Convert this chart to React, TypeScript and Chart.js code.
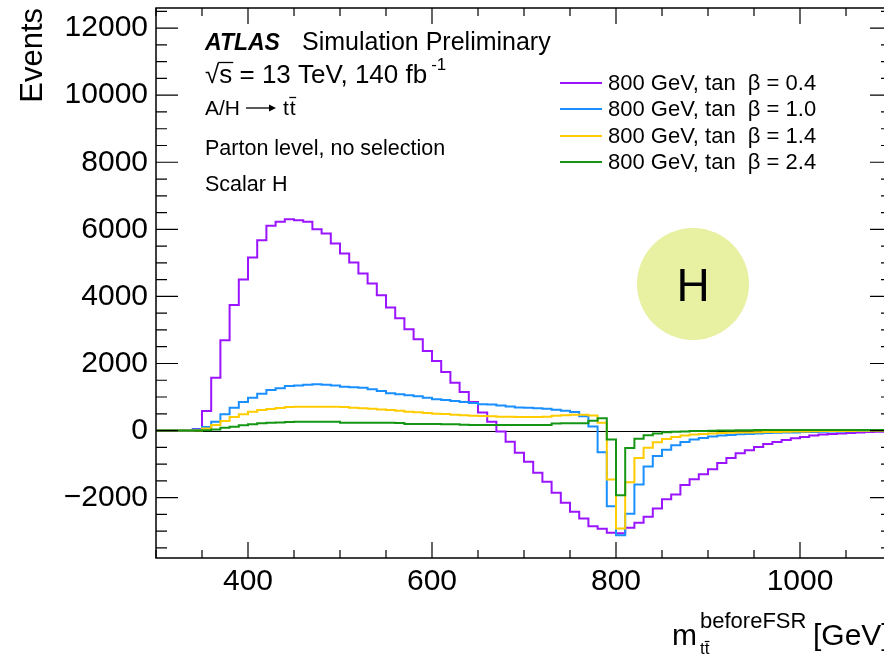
import React, { useEffect, useRef } from "react";
import { Chart, registerables } from "chart.js";

Chart.register(...registerables);

const FONT = '"Liberation Sans", Arial, Helvetica, sans-serif';

// Bin low edges (GeV), 10 GeV bins
const BIN_LOW = [
  300, 310, 320, 330, 340, 350, 360, 370, 380, 390,
  400, 410, 420, 430, 440, 450, 460, 470, 480, 490,
  500, 510, 520, 530, 540, 550, 560, 570, 580, 590,
  600, 610, 620, 630, 640, 650, 660, 670, 680, 690,
  700, 710, 720, 730, 740, 750, 760, 770, 780, 790,
  800, 810, 820, 830, 840, 850, 860, 870, 880, 890,
  900, 910, 920, 930, 940, 950, 960, 970, 980, 990,
  1000, 1010, 1020, 1030, 1040, 1050, 1060, 1070, 1080, 1090,
];
const X_END = 1100;

const TANB_04 = [
  0, 0, 0, 0, 50, 582, 1576, 2692, 3746, 4502,
  5158, 5677, 6104, 6224, 6304, 6274, 6224, 6005, 5875, 5577,
  5278, 5009, 4681, 4382, 4035, 3666, 3348, 3020, 2722, 2373,
  2075, 1746, 1428, 1149, 851, 540, 263, -30, -334, -663,
  -931, -1260, -1528, -1857, -2156, -2424, -2623, -2851, -2930, -3050,
  -3060, -2901, -2752, -2573, -2323, -2050, -1905, -1620, -1450, -1300,
  -1150, -970, -820, -680, -590, -490, -400, -340, -280, -230,
  -190, -150, -120, -100, -85, -70, -55, -45, -35, -30,
];

const TANB_10 = [
  0, 0, 0, 0, 30, 104, 260, 483, 681, 851,
  979, 1099, 1209, 1260, 1328, 1340, 1368, 1378, 1368, 1340,
  1307, 1290, 1278, 1230, 1179, 1110, 1080, 1051, 1020, 979,
  931, 910, 881, 850, 821, 782, 780, 751, 721, 690,
  681, 665, 650, 620, 590, 552, 430, 120, -650, -2254,
  -3120, -2483, -1606, -1070, -760, -570, -440, -343, -270, -220,
  -175, -145, -130, -110, -100, -85, -75, -65, -60, -55,
  -45, -40, -35, -30, -25, -20, -15, -10, -10, -10,
];

const TANB_14 = [
  0, 0, 0, 0, 0, 60, 164, 284, 403, 483,
  561, 612, 642, 672, 701, 710, 710, 710, 710, 710,
  700, 680, 663, 650, 630, 610, 590, 561, 545, 522,
  505, 492, 470, 453, 440, 433, 425, 415, 410, 405,
  405, 405, 410, 440, 455, 470, 470, 450, 233, -1457,
  -2920, -1540, -820, -513, -350, -250, -190, -150, -120, -100,
  -85, -75, -65, -60, -55, -50, -45, -40, -35, -30,
  -25, -20, -15, -10, -10, -10, -5, -5, -5, -5,
];

const TANB_24 = [
  0, 0, 0, 0, 0, 10, 30, 84, 113, 155,
  185, 215, 233, 240, 254, 265, 265, 265, 265, 263,
  235, 230, 230, 230, 230, 230, 225, 195, 195, 195,
  195, 190, 190, 170, 165, 165, 165, 165, 165, 165,
  165, 165, 165, 210, 215, 215, 215, 290, 365, -264,
  -1930, -520, -245, -143, -84, -50, -35, -25, -15, -10,
  -5, 0, 5, 10, 10, 15, 15, 15, 15, 15,
  15, 15, 15, 15, 15, 15, 15, 15, 15, 15,
];

const SERIES_LABELS = [
  "800 GeV, tan  \u03B2 = 0.4",
  "800 GeV, tan  \u03B2 = 1.0",
  "800 GeV, tan  \u03B2 = 1.4",
  "800 GeV, tan  \u03B2 = 2.4",
];
const SERIES_COLORS = ["#9a14ff", "#1a8fff", "#ffcc00", "#149614"];
const SERIES_VALUES = [TANB_04, TANB_10, TANB_14, TANB_24];

const X_MIN = 300;
const X_MAX = 1100;
const Y_MIN = -3800;
const Y_MAX = 12600;
const X_MAJOR_TICKS = [400, 600, 800, 1000];
const Y_MAJOR_TICKS = [-2000, 0, 2000, 4000, 6000, 8000, 10000, 12000];
const X_MINOR_STEP = 50;
const Y_MINOR_STEP = 500;

function toPoints(vals: number[]) {
  const pts = BIN_LOW.map((x, i) => ({ x, y: vals[i] }));
  pts.push({ x: X_END, y: vals[vals.length - 1] });
  return pts;
}

const decor = {
  id: "atlasDecor",
  beforeDatasetsDraw(chart: any) {
    const { ctx, chartArea } = chart;
    const ys = chart.scales.y;
    const y0 = Math.round(ys.getPixelForValue(0)) + 0.5;
    ctx.save();
    ctx.strokeStyle = "#000";
    ctx.lineWidth = 1;
    ctx.beginPath();
    ctx.moveTo(chartArea.left, y0);
    ctx.lineTo(chartArea.right, y0);
    ctx.stroke();
    ctx.restore();
  },
  afterDraw(chart: any) {
    const { ctx, chartArea } = chart;
    const xs = chart.scales.x;
    const ys = chart.scales.y;
    const L = chartArea.left, R = chartArea.right, T = chartArea.top, B = chartArea.bottom;
    ctx.save();
    // frame
    ctx.strokeStyle = "#000";
    ctx.lineWidth = 1.5;
    ctx.strokeRect(L, T, R - L, B - T);
    // ticks
    ctx.lineWidth = 1.2;
    ctx.beginPath();
    for (let v = X_MIN; v <= X_MAX; v += X_MINOR_STEP) {
      const px = xs.getPixelForValue(v);
      const major = X_MAJOR_TICKS.includes(v) || v % 200 === 0;
      const len = major ? 16 : 8;
      ctx.moveTo(px, B);
      ctx.lineTo(px, B - len);
      ctx.moveTo(px, T);
      ctx.lineTo(px, T + len);
    }
    for (let v = -3500; v <= Y_MAX; v += Y_MINOR_STEP) {
      const py = ys.getPixelForValue(v);
      const major = Y_MAJOR_TICKS.includes(v);
      const len = major ? 22 : 11;
      ctx.moveTo(L, py);
      ctx.lineTo(L + len, py);
      ctx.moveTo(R, py);
      ctx.lineTo(R - len, py);
    }
    ctx.stroke();

    // circle with H
    ctx.fillStyle = "#e8f0a2";
    ctx.beginPath();
    ctx.ellipse(693, 284, 56, 56, 0, 0, Math.PI * 2);
    ctx.fill();
    ctx.fillStyle = "#000";
    ctx.font = `46px ${FONT}`;
    ctx.textAlign = "center";
    ctx.textBaseline = "alphabetic";
    ctx.fillText("H", 693, 301);

    // annotations
    ctx.textAlign = "left";
    ctx.textBaseline = "alphabetic";
    ctx.font = `italic bold 23px ${FONT}`;
    ctx.fillText("ATLAS", 205, 50);
    ctx.font = `25px ${FONT}`;
    ctx.fillText("Simulation Preliminary", 302, 50);

    // sqrt(s) line
    ctx.font = `26px ${FONT}`;
    const rad = "\u221A";
    ctx.fillText(rad, 205, 83);
    const rw = ctx.measureText(rad).width;
    ctx.fillText("s", 205 + rw, 83);
    const sw = ctx.measureText("s").width;
    ctx.lineWidth = 1.3;
    ctx.beginPath();
    ctx.moveTo(205 + rw - 1, 62.5);
    ctx.lineTo(205 + rw + sw + 1, 62.5);
    ctx.stroke();
    const s = " = 13 TeV, 140 fb";
    ctx.fillText(s, 205 + rw + sw, 83);
    const w = ctx.measureText(s).width;
    ctx.font = `17px ${FONT}`;
    ctx.fillText("-1", 205 + rw + sw + w + 4, 70);

    // A/H -> t tbar
    ctx.font = `21px ${FONT}`;
    ctx.fillText("A/H", 205, 115);
    ctx.lineWidth = 1.3;
    ctx.beginPath();
    ctx.moveTo(246, 108);
    ctx.lineTo(274, 108);
    ctx.stroke();
    ctx.beginPath();
    ctx.moveTo(276, 108);
    ctx.lineTo(269, 104.5);
    ctx.lineTo(269, 111.5);
    ctx.closePath();
    ctx.fill();
    ctx.fillText("t", 283, 115);
    const tw = ctx.measureText("t").width;
    ctx.fillText("t", 283 + tw + 1, 115);
    ctx.beginPath();
    ctx.moveTo(283 + tw + 0.5, 97.5);
    ctx.lineTo(283 + 2 * tw + 1.5, 97.5);
    ctx.stroke();

    ctx.font = `21.5px ${FONT}`;
    ctx.fillText("Parton level, no selection", 205, 155);
    ctx.fillText("Scalar H", 205, 191);

    // legend
    const legY = [83, 109, 136, 162];
    ctx.font = `22px ${FONT}`;
    ctx.textBaseline = "middle";
    SERIES_LABELS.forEach((lab, i) => {
      ctx.strokeStyle = SERIES_COLORS[i];
      ctx.lineWidth = 2;
      ctx.beginPath();
      ctx.moveTo(560, legY[i]);
      ctx.lineTo(602, legY[i]);
      ctx.stroke();
      ctx.fillStyle = "#000";
      ctx.fillText(lab, 608, legY[i] + 1);
    });

    // x title
    ctx.textBaseline = "alphabetic";
    ctx.fillStyle = "#000";
    ctx.strokeStyle = "#000";
    ctx.font = `30px ${FONT}`;
    ctx.fillText("m", 672, 645);
    ctx.font = `22px ${FONT}`;
    ctx.fillText("beforeFSR", 700, 628);
    ctx.font = `17px ${FONT}`;
    ctx.fillText("tt", 700, 654);
    const t1 = ctx.measureText("t").width;
    ctx.lineWidth = 1.2;
    ctx.beginPath();
    ctx.moveTo(700 + t1, 641.5);
    ctx.lineTo(700 + 2 * t1, 641.5);
    ctx.stroke();
    ctx.font = `30px ${FONT}`;
    ctx.fillText("[GeV]", 813, 645);
    ctx.restore();
  },
};

export default function App() {
  const ref = useRef<HTMLCanvasElement | null>(null);
  useEffect(() => {
    if (!ref.current) return;
    const order = [3, 2, 1, 0];
    const chart = new Chart(ref.current, {
      type: "line",
      data: {
        datasets: SERIES_VALUES.map((vals, i) => ({
          label: SERIES_LABELS[i],
          data: toPoints(vals),
          borderColor: SERIES_COLORS[i],
          backgroundColor: SERIES_COLORS[i],
          borderWidth: 2,
          pointRadius: 0,
          fill: false,
          stepped: true,
          tension: 0,
          order: order[i],
        })),
      },
      options: {
        animation: false,
        responsive: false,
        devicePixelRatio: 1,
        layout: { padding: { top: 8, right: 8, left: 0, bottom: 0 } },
        plugins: { legend: { display: false }, tooltip: { enabled: false } },
        scales: {
          x: {
            type: "linear",
            min: X_MIN,
            max: X_MAX,
            grid: { display: false, drawTicks: false },
            border: { display: false },
            ticks: {
              font: { family: FONT, size: 30 },
              color: "#000",
              padding: 6,
              maxRotation: 0,
              autoSkip: false,
              callback: (v: any) => String(v),
            },
            afterBuildTicks: (s: any) => {
              s.ticks = X_MAJOR_TICKS.map((v) => ({ value: v }));
            },
            afterFit: (s: any) => {
              s.height = 96;
              s.paddingLeft = 0;
              s.paddingRight = 0;
            },
          },
          y: {
            type: "linear",
            min: Y_MIN,
            max: Y_MAX,
            grid: { display: false, drawTicks: false },
            border: { display: false },
            ticks: {
              font: { family: FONT, size: 30 },
              color: "#000",
              padding: 8,
              callback: (v: any) => (v < 0 ? "\u2212" + Math.abs(v) : String(v)),
            },
            afterBuildTicks: (s: any) => {
              s.ticks = Y_MAJOR_TICKS.map((v) => ({ value: v }));
            },
            afterFit: (s: any) => {
              s.width = 156;
              s.paddingTop = 0;
              s.paddingBottom = 0;
            },
            title: {
              display: true,
              text: "Events",
              align: "end",
              color: "#000",
              font: { family: FONT, size: 31 },
              padding: { top: 15, bottom: 0 },
            },
          },
        },
      },
      plugins: [decor],
    } as any);
    return () => chart.destroy();
  }, []);
  return (
    <div
      style={{
        position: "fixed",
        left: 0,
        top: 0,
        width: 884,
        height: 654,
        overflow: "hidden",
        background: "#fff",
      }}
    >
      <canvas ref={ref} width={900} height={654} style={{ width: 900, height: 654, display: "block" }} />
    </div>
  );
}
